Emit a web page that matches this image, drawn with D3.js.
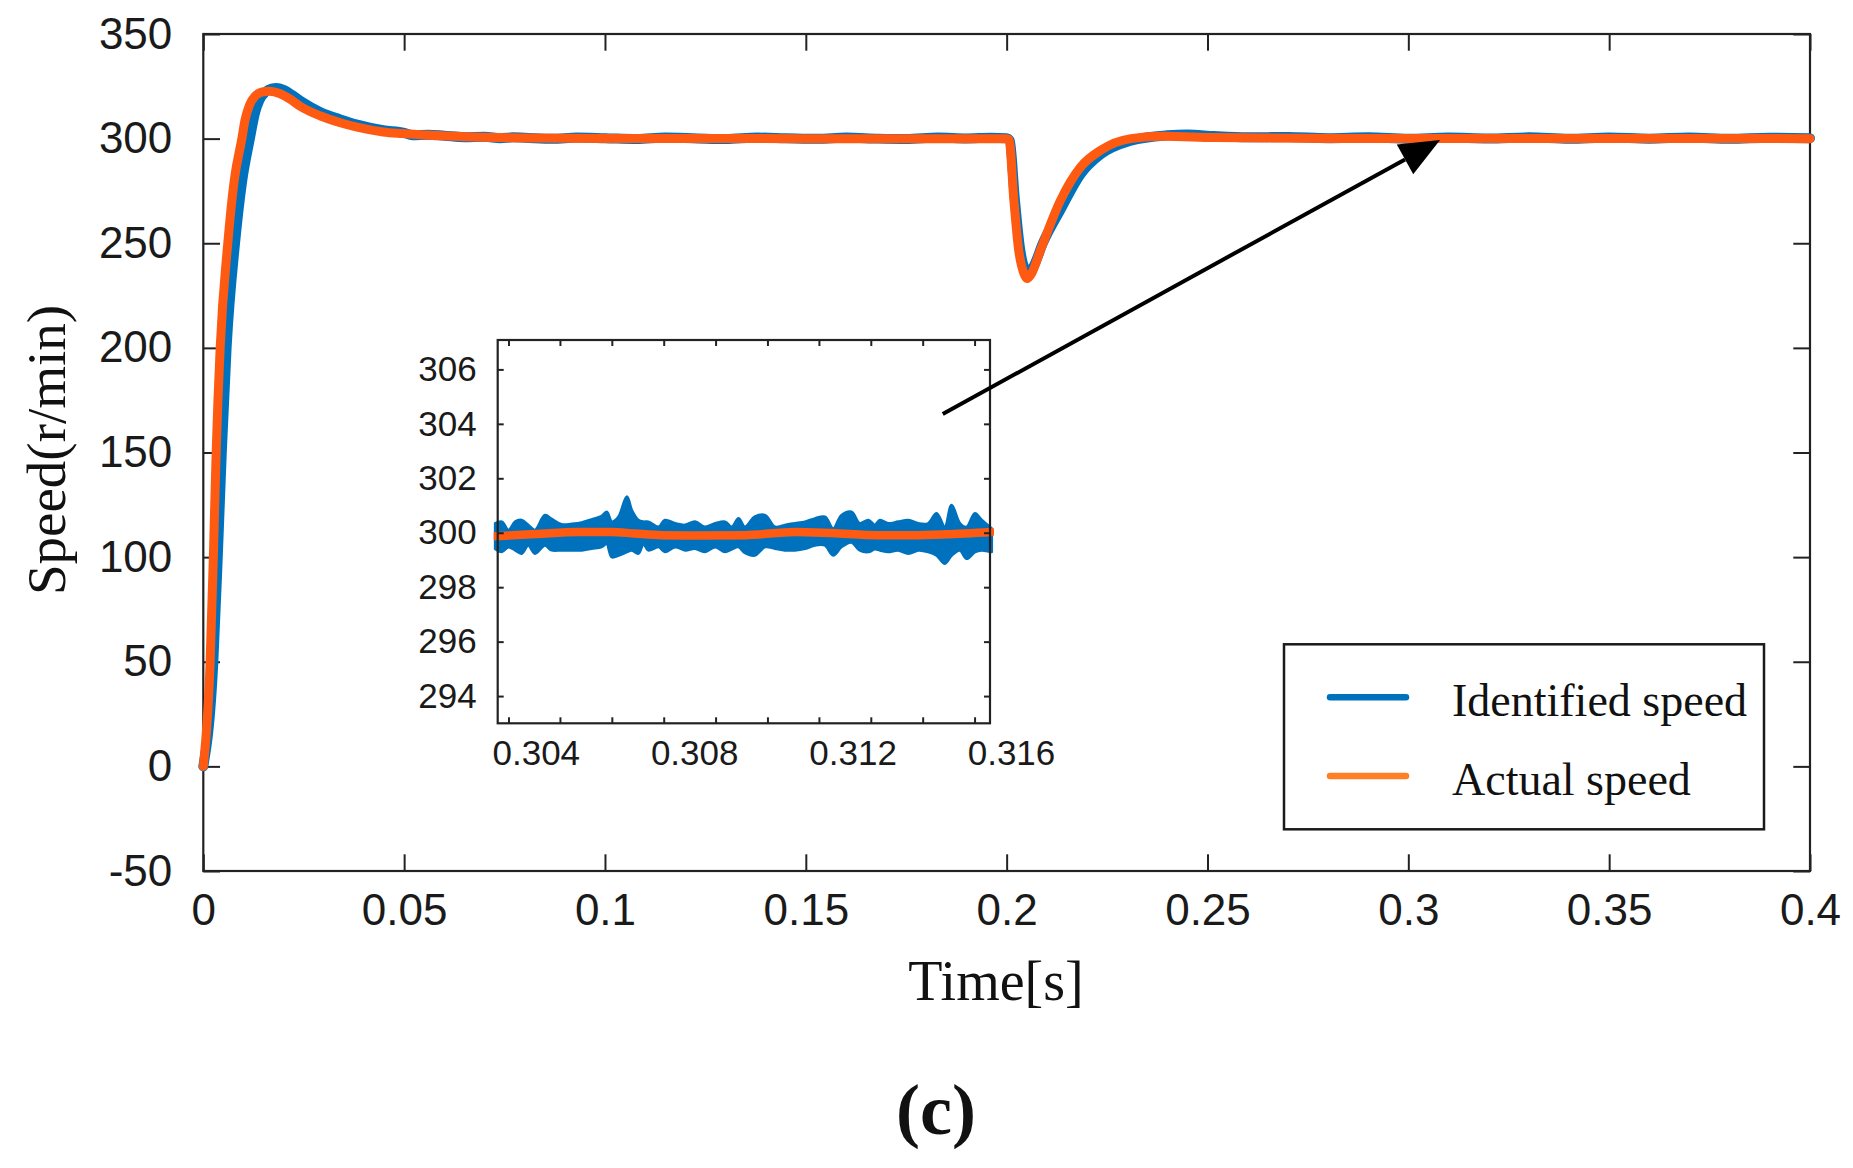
<!DOCTYPE html>
<html>
<head>
<meta charset="utf-8">
<script src="https://cdn.jsdelivr.net/npm/d3@7"></script>
<style>
  html, body { margin: 0; padding: 0; background: #fff; }
  svg { display: block; }
</style>
</head>
<body>
<svg id="chart" width="1853" height="1168"></svg>
<script>
// ---------------- DATA ----------------
// Main chart: time (s) and speed (r/min)
const xTickValues = [0, 0.05, 0.1, 0.15, 0.2, 0.25, 0.3, 0.35, 0.4];
const xTickLabels = ["0", "0.05", "0.1", "0.15", "0.2", "0.25", "0.3", "0.35", "0.4"];
const yTickValues = [-50, 0, 50, 100, 150, 200, 250, 300, 350];
const yTickLabels = ["-50", "0", "50", "100", "150", "200", "250", "300", "350"];

// Identified speed (blue)
const identifiedT = [0, 0.0025, 0.0036, 0.0046, 0.0058, 0.0079, 0.0097, 0.0116, 0.0129, 0.0140, 0.0155, 0.0170, 0.0182, 0.0200, 0.0220, 0.0245, 0.0292, 0.0341, 0.0383, 0.0448, 0.0500, 0.0520, 0.0560, 0.0600, 0.0650, 0.0700, 0.0740, 0.0770, 0.0800, 0.0870, 0.0930, 0.1000, 0.1080, 0.1150, 0.1230, 0.1300, 0.1380, 0.1450, 0.1530, 0.1600, 0.1680, 0.1750, 0.1830, 0.1900, 0.1960, 0.2000, 0.2008, 0.2020, 0.2033, 0.2045, 0.2055, 0.2067, 0.2090, 0.2134, 0.2184, 0.2234, 0.2309, 0.2400, 0.2450, 0.2516, 0.2600, 0.2700, 0.2800, 0.2900, 0.3000, 0.3100, 0.3200, 0.3300, 0.3400, 0.3500, 0.3600, 0.3700, 0.3800, 0.3900, 0.4000];
const identifiedV = [0, 50, 100, 150, 200, 250, 280, 300, 312.5, 318.5, 322.3, 323.9, 324.2, 323.3, 321.0, 317.6, 312.6, 309.2, 306.7, 304, 302.8, 301.6, 301.9, 301.4, 300.7, 300.9, 300.2, 300.6, 300.4, 299.9, 300.5, 300.2, 299.8, 300.5, 300.1, 299.8, 300.5, 300.2, 299.9, 300.5, 300.0, 299.8, 300.5, 300.1, 300.4, 300.2, 299.0, 272, 248, 238, 236.3, 239, 250, 266, 283, 292.5, 299, 301.6, 302.0, 301.2, 300.6, 300.8, 300.2, 300.6, 299.9, 300.5, 300.1, 300.6, 299.9, 300.5, 300.0, 300.5, 299.9, 300.4, 300.2];

// Actual speed (orange)
const actualT = [0, 0.0017, 0.0025, 0.0032, 0.0042, 0.0061, 0.0077, 0.0096, 0.0104, 0.0115, 0.0129, 0.0145, 0.0165, 0.0190, 0.0215, 0.0241, 0.0292, 0.0341, 0.0383, 0.0448, 0.0494, 0.0605, 0.0700, 0.0800, 0.1000, 0.1500, 0.2000, 0.2006, 0.2018, 0.2030, 0.2042, 0.2051, 0.2062, 0.2084, 0.2134, 0.2184, 0.2234, 0.2309, 0.2391, 0.2516, 0.2800, 0.4000];
const actualV = [0, 50, 100, 150, 200, 250, 280, 300, 309, 316, 320.3, 322.2, 322.7, 321.6, 319.0, 315.5, 310.8, 307.6, 305.5, 303.2, 302.4, 301.2, 300.6, 300.3, 300.1, 300, 300, 299.5, 270.5, 246.6, 236, 233.1, 235.5, 246.6, 270.5, 286.4, 294.4, 300, 301.1, 300.5, 300.1, 300];

// Inset (zoom 0.303 – 0.3155 s)
const insetXTickLabelValues = [0.304, 0.308, 0.312, 0.316];
const insetXTickLabels = ["0.304", "0.308", "0.312", "0.316"];
const insetXMinorTicks = [0.30331, 0.30461, 0.30592, 0.30723, 0.30854, 0.30985, 0.31115, 0.31246, 0.31377, 0.31508];
const insetYTickValues = [294, 296, 298, 300, 302, 304, 306];

// Identified speed band inside the inset: upper / lower envelope
const insetBlueT = [0.30297, 0.30314, 0.30331, 0.30348, 0.30364, 0.30381, 0.30398, 0.30423, 0.30440, 0.30465, 0.30491, 0.30516, 0.30541, 0.30566, 0.30579, 0.30592, 0.30609, 0.30630, 0.30642, 0.30659, 0.30672, 0.30684, 0.30710, 0.30726, 0.30752, 0.30777, 0.30802, 0.30827, 0.30853, 0.30878, 0.30895, 0.30912, 0.30928, 0.30953, 0.30979, 0.31004, 0.31029, 0.31054, 0.31080, 0.31105, 0.31130, 0.31151, 0.31172, 0.31197, 0.31218, 0.31240, 0.31256, 0.31269, 0.31290, 0.31315, 0.31341, 0.31366, 0.31391, 0.31412, 0.31433, 0.31450, 0.31471, 0.31488, 0.31509, 0.31526, 0.31551];
const insetBlueHi = [300.34, 300.40, 300.09, 300.40, 300.46, 300.28, 300.09, 300.64, 300.50, 300.30, 300.32, 300.37, 300.48, 300.60, 300.76, 300.40, 300.58, 301.32, 300.83, 300.46, 300.40, 300.40, 300.21, 300.46, 300.34, 300.28, 300.40, 300.21, 300.34, 300.40, 300.21, 300.52, 300.21, 300.58, 300.64, 300.21, 300.28, 300.34, 300.40, 300.52, 300.58, 300.15, 300.64, 300.76, 300.34, 300.46, 300.28, 300.46, 300.34, 300.40, 300.46, 300.34, 300.34, 300.71, 300.21, 301.01, 300.34, 300.21, 300.71, 300.46, 300.15];
const insetBlueLo = [299.42, 299.30, 299.48, 299.36, 299.24, 299.54, 299.24, 299.54, 299.36, 299.36, 299.36, 299.36, 299.42, 299.48, 299.60, 299.11, 299.17, 299.30, 299.36, 299.24, 299.60, 299.36, 299.48, 299.30, 299.48, 299.36, 299.42, 299.30, 299.48, 299.30, 299.40, 299.48, 299.27, 299.17, 299.48, 299.42, 299.36, 299.36, 299.42, 299.54, 299.54, 299.17, 299.48, 299.65, 299.36, 299.30, 299.40, 299.36, 299.30, 299.36, 299.24, 299.36, 299.30, 299.17, 298.87, 299.17, 299.36, 299.05, 299.30, 299.36, 299.30];

// Actual speed inside the inset
const insetOrangeT = [0.30297, 0.30400, 0.30507, 0.30592, 0.30650, 0.30718, 0.30800, 0.30928, 0.31054, 0.31147, 0.31265, 0.31350, 0.31433, 0.31551];
const insetOrangeV = [299.87, 299.95, 300.03, 300.03, 299.97, 299.91, 299.90, 299.91, 300.03, 299.99, 299.91, 299.91, 299.94, 300.03];

// Annotation arrow (data coordinates of the main chart)
const arrowFrom = [0.1841, 168.4];
const arrowTo = [0.3079, 299.3];

const legendNames = ["Identified speed", "Actual speed"];

// ---------------- STYLE ----------------
const BLUE = "#0072BD";
const ORANGE = "#FF5A12";
const ORANGE_LEGEND = "#FF7F27";
const AXIS = "#222";
const SANS = "'Liberation Sans', Arial, Helvetica, sans-serif";
const SERIF = "'Liberation Serif', 'Times New Roman', Times, serif";

const svg = d3.select("#chart");
svg.append("rect").attr("width", 1853).attr("height", 1168).attr("fill", "#fff");

// ---------------- MAIN CHART ----------------
const P = { left: 203.3, right: 1810, top: 34, bottom: 871 };
const x = d3.scaleLinear().domain([0, 0.4]).range([P.left, P.right]);
const y = d3.scaleLinear().domain([-50, 350]).range([P.bottom, P.top]);
const TICK = 16.7;

const gMain = svg.append("g");

function styleAxis(g, fontSize, font) {
  g.select(".domain").remove();
  g.selectAll(".tick line").attr("stroke", AXIS).attr("stroke-width", 2);
  g.selectAll(".tick text").attr("fill", "#1a1a1a").attr("font-family", font).attr("font-size", fontSize);
}

// bottom axis
gMain.append("g").attr("transform", `translate(0,${P.bottom})`)
  .call(d3.axisBottom(x).tickValues(xTickValues).tickFormat((d, i) => xTickLabels[i])
    .tickSize(-TICK).tickSizeOuter(0).tickPadding(22.5))
  .call(g => styleAxis(g, 44, SANS));
// top axis (ticks only)
gMain.append("g").attr("transform", `translate(0,${P.top})`)
  .call(d3.axisTop(x).tickValues(xTickValues).tickFormat("").tickSize(-TICK).tickSizeOuter(0))
  .call(g => styleAxis(g, 44, SANS));
// left axis
gMain.append("g").attr("transform", `translate(${P.left},0)`)
  .call(d3.axisLeft(y).tickValues(yTickValues).tickFormat((d, i) => yTickLabels[i])
    .tickSize(-TICK).tickSizeOuter(0).tickPadding(31))
  .call(g => styleAxis(g, 44, SANS));
// right axis (ticks only)
gMain.append("g").attr("transform", `translate(${P.right},0)`)
  .call(d3.axisRight(y).tickValues(yTickValues).tickFormat("").tickSize(-TICK).tickSizeOuter(0))
  .call(g => styleAxis(g, 44, SANS));

// frame
gMain.append("rect")
  .attr("x", x(0)).attr("y", y(350))
  .attr("width", x(0.4) - x(0)).attr("height", y(-50) - y(350))
  .attr("fill", "none").attr("stroke", AXIS).attr("stroke-width", 2.2);

// curves
const mainLine = d3.line().x(d => x(d[0])).y(d => y(d[1])).curve(d3.curveMonotoneX);

gMain.append("path")
  .datum(identifiedT.map((t, i) => [t, identifiedV[i]]))
  .attr("d", mainLine)
  .attr("fill", "none").attr("stroke", BLUE).attr("stroke-width", 10)
  .attr("stroke-linejoin", "round").attr("stroke-linecap", "round");

gMain.append("path")
  .datum(actualT.map((t, i) => [t, actualV[i]]))
  .attr("d", mainLine)
  .attr("fill", "none").attr("stroke", ORANGE).attr("stroke-width", 9)
  .attr("stroke-linejoin", "round").attr("stroke-linecap", "round");

// axis titles
svg.append("text")
  .attr("transform", `translate(65, 450) rotate(-90)`)
  .attr("text-anchor", "middle")
  .attr("font-family", SERIF).attr("font-size", 55).attr("fill", "#111")
  .text("Speed(r/min)");

svg.append("text")
  .attr("x", 996).attr("y", 1000)
  .attr("text-anchor", "middle")
  .attr("font-family", SERIF).attr("font-size", 56).attr("fill", "#111")
  .text("Time[s]");

svg.append("text")
  .attr("x", 936).attr("y", 1134)
  .attr("text-anchor", "middle")
  .attr("font-family", SERIF).attr("font-weight", "bold").attr("font-size", 72).attr("fill", "#111")
  .text("(c)");

// ---------------- INSET ----------------
const I = { left: 497.7, right: 990, top: 340, bottom: 723.3 };
const xi = d3.scaleLinear().domain([0.303038, 0.31547]).range([I.left, I.right]);
const yi = d3.scaleLinear().domain([293.0, 307.08]).range([I.bottom, I.top]);
const ITICK = 6;

const gIn = svg.append("g");
gIn.append("rect")
  .attr("x", I.left).attr("y", I.top).attr("width", I.right - I.left).attr("height", I.bottom - I.top)
  .attr("fill", "#fff");

gIn.append("defs").append("clipPath").attr("id", "insetClip")
  .append("rect")
  .attr("x", I.left - 4).attr("y", I.top).attr("width", I.right - I.left + 8).attr("height", I.bottom - I.top);

const gInData = gIn.append("g").attr("clip-path", "url(#insetClip)");

gInData.append("path")
  .datum(insetBlueT.map((t, i) => [t, insetBlueHi[i], insetBlueLo[i]]))
  .attr("d", d3.area().x(d => xi(d[0])).y0(d => yi(d[2])).y1(d => yi(d[1])).curve(d3.curveCatmullRom))
  .attr("fill", BLUE).attr("stroke", BLUE).attr("stroke-width", 3).attr("stroke-linejoin", "round");

gInData.append("path")
  .datum(insetOrangeT.map((t, i) => [t, insetOrangeV[i]]))
  .attr("d", d3.line().x(d => xi(d[0])).y(d => yi(d[1])).curve(d3.curveMonotoneX))
  .attr("fill", "none").attr("stroke", ORANGE).attr("stroke-width", 8.5)
  .attr("stroke-linecap", "round");

// inset axes
gIn.append("g").attr("transform", `translate(0,${I.bottom})`)
  .call(d3.axisBottom(xi).tickValues(insetXMinorTicks).tickFormat("").tickSize(-ITICK).tickSizeOuter(0))
  .call(g => styleAxis(g, 35, SANS));
gIn.append("g").attr("transform", `translate(0,${I.top})`)
  .call(d3.axisTop(xi).tickValues(insetXMinorTicks).tickFormat("").tickSize(-ITICK).tickSizeOuter(0))
  .call(g => styleAxis(g, 35, SANS));
// inset x labels (no tick marks)
gIn.append("g").attr("transform", `translate(0,${I.bottom})`)
  .call(d3.axisBottom(xi).tickValues(insetXTickLabelValues).tickFormat((d, i) => insetXTickLabels[i])
    .tickSize(0).tickSizeOuter(0).tickPadding(17))
  .call(g => styleAxis(g, 35, SANS));
gIn.append("g").attr("transform", `translate(${I.left},0)`)
  .call(d3.axisLeft(yi).tickValues(insetYTickValues).tickFormat(d => String(d))
    .tickSize(-ITICK).tickSizeOuter(0).tickPadding(21))
  .call(g => styleAxis(g, 35, SANS));
gIn.append("g").attr("transform", `translate(${I.right},0)`)
  .call(d3.axisRight(yi).tickValues(insetYTickValues).tickFormat("").tickSize(-ITICK).tickSizeOuter(0))
  .call(g => styleAxis(g, 35, SANS));

gIn.append("rect")
  .attr("x", I.left).attr("y", I.top).attr("width", I.right - I.left).attr("height", I.bottom - I.top)
  .attr("fill", "none").attr("stroke", AXIS).attr("stroke-width", 2.2);

// ---------------- ARROW ----------------
const ax0 = x(arrowFrom[0]), ay0 = y(arrowFrom[1]);
const ax1 = x(arrowTo[0]), ay1 = y(arrowTo[1]);
const ang = Math.atan2(ay1 - ay0, ax1 - ax0);
const headLen = 40, headHalf = 17;
const bx = ax1 - headLen * Math.cos(ang), by = ay1 - headLen * Math.sin(ang);
svg.append("line")
  .attr("x1", ax0).attr("y1", ay0).attr("x2", bx).attr("y2", by)
  .attr("stroke", "#000").attr("stroke-width", 4);
svg.append("path")
  .attr("d", d3.line()([
    [ax1, ay1],
    [bx + headHalf * Math.sin(ang), by - headHalf * Math.cos(ang)],
    [bx - headHalf * Math.sin(ang), by + headHalf * Math.cos(ang)]
  ]) + "Z")
  .attr("fill", "#000");

// ---------------- LEGEND ----------------
const L = { left: 1284, top: 644.3, right: 1764, bottom: 829.3 };
const gLeg = svg.append("g");
gLeg.append("rect")
  .attr("x", L.left).attr("y", L.top).attr("width", L.right - L.left).attr("height", L.bottom - L.top)
  .attr("fill", "#fff").attr("stroke", "#1a1a1a").attr("stroke-width", 2.5);
const legColors = [BLUE, ORANGE_LEGEND];
const legRowsY = [697.3, 776];
legendNames.forEach((name, i) => {
  gLeg.append("line")
    .attr("x1", 1330).attr("x2", 1406).attr("y1", legRowsY[i]).attr("y2", legRowsY[i])
    .attr("stroke", legColors[i]).attr("stroke-width", 6.5).attr("stroke-linecap", "round");
  gLeg.append("text")
    .attr("x", 1452).attr("y", legRowsY[i] + 18.5)
    .attr("font-family", SERIF).attr("font-size", 46).attr("fill", "#111")
    .text(name);
});
</script>
</body>
</html>
